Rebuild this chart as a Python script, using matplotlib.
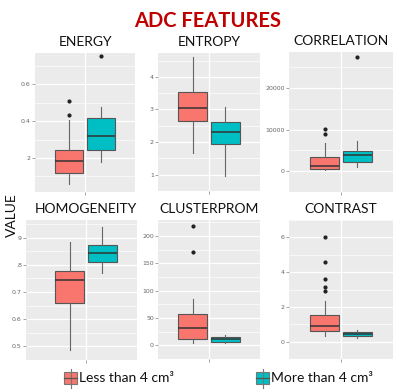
import matplotlib
matplotlib.use("Agg")
from matplotlib import pyplot as plt
from matplotlib.patches import Rectangle

# colours
RED = "#F8766D"
TEAL = "#00BFC4"
groups = ["Less than 4 cm\u00b3", "More than 4 cm\u00b3"]

# box stats: [lower whisker, Q1, median, Q3, upper whisker]
energy_less = [0.057, 0.119, 0.185, 0.241, 0.405]
energy_less_out = [0.435, 0.51]
energy_more = [0.18, 0.243, 0.32, 0.415, 0.475]
energy_more_out = [0.75]

entropy_less = [1.67, 2.64, 3.05, 3.52, 4.62]
entropy_less_out = []
entropy_more = [0.97, 1.95, 2.30, 2.61, 3.08]
entropy_more_out = []

corr_less = [300, 510, 1370, 3360, 6790]
corr_less_out = [9080, 10280]
corr_more = [1070, 2140, 3790, 4930, 7280]
corr_more_out = [27500]

homog_less = [0.486, 0.661, 0.744, 0.777, 0.885]
homog_less_out = []
homog_more = [0.769, 0.811, 0.843, 0.873, 0.94]
homog_more_out = []

clust_less = [4, 12.4, 30.8, 57, 85]
clust_less_out = [170, 218]
clust_more = [4, 6.7, 11.2, 15, 19.6]
clust_more_out = []

contr_less = [0.3, 0.64, 0.92, 1.56, 2.32]
contr_less_out = [2.93, 3.17, 3.63, 4.58, 6.0]
contr_more = [0.18, 0.30, 0.43, 0.53, 0.68]
contr_more_out = []

# tick values / labels as they appear in the picture
energy_ticks = [0.2, 0.4, 0.6]
energy_labels = ["2", "0.4", "0.6"]
entropy_ticks = [1, 2, 3, 4]
entropy_labels = ["1", "2", "3", "4"]
corr_ticks = [0, 10000, 20000]
corr_labels = ["0", "10000", "20000"]
homog_ticks = [0.5, 0.6, 0.7, 0.8, 0.9]
homog_labels = ["0.5", "0.6", "0.7", ".8", "9"]
clust_ticks = [0, 50, 100, 150, 200]
clust_labels = ["0", "50", "100", "150", "200"]
contr_ticks = [0, 2, 4, 6]
contr_labels = ["0", "2", "4", "6"]

W, H = 400, 392
fig = plt.figure(figsize=(4, 3.92), dpi=100)


def add_ax(x0, y0, x1, y1):
    return fig.add_axes([x0 / W, 1 - y1 / H, (x1 - x0) / W, (y1 - y0) / H])


def stats(s, out):
    return dict(whislo=s[0], q1=s[1], med=s[2], q3=s[3], whishi=s[4], fliers=out)


def panel(ax, title, less, less_out, more, more_out, ticks, labels, ylim, xlim=(-0.6, 0.6)):
    ax.set_facecolor("#EBEBEB")
    b = ax.bxp([stats(less, less_out), stats(more, more_out)],
               positions=[-0.19, 0.19], widths=0.34, patch_artist=True,
               showcaps=False,
               boxprops=dict(edgecolor="#555555", linewidth=0.8),
               medianprops=dict(color="#333333", linewidth=1.1),
               whiskerprops=dict(color="#666666", linewidth=0.8),
               flierprops=dict(marker="o", markersize=2, markerfacecolor="#222222",
                               markeredgecolor="#222222"))
    b["boxes"][0].set_facecolor(RED)
    b["boxes"][1].set_facecolor(TEAL)
    ax.set_xlim(*xlim)
    ax.set_ylim(*ylim)
    ax.set_yticks(ticks)
    ax.set_yticklabels(labels)
    step = ticks[1] - ticks[0]
    minor = [t - step / 2 for t in ticks] + [ticks[-1] + step / 2]
    ax.set_yticks(minor, minor=True)
    ax.set_xticks([0])
    ax.set_xticklabels([""])
    ax.grid(True, which="major", color="white", linewidth=0.9)
    ax.grid(True, which="minor", axis="y", color="white", linewidth=0.45)
    ax.set_axisbelow(True)
    ax.tick_params(axis="y", which="major", labelsize=4.5, labelcolor="#666666",
                   color="#808080", length=2, width=0.5, pad=1)
    ax.tick_params(axis="x", length=2, width=0.5, color="#808080")
    ax.tick_params(which="minor", length=0)
    for sp in ax.spines.values():
        sp.set_visible(False)
    pos = ax.get_position()
    fig.text(pos.x0 + pos.width * (0 - xlim[0]) / (xlim[1] - xlim[0]), pos.y1 + 0.012, title,
             ha="center", va="bottom", fontsize=10, family="Lato", color="#111111")


ax1 = add_ax(35, 53, 135, 192)
panel(ax1, "ENERGY", energy_less, energy_less_out, energy_more, energy_more_out,
      energy_ticks, energy_labels, (0.016, 0.768))
ax2 = add_ax(158, 53, 260, 191)
panel(ax2, "ENTROPY", entropy_less, entropy_less_out, entropy_more, entropy_more_out,
      entropy_ticks, entropy_labels, (0.79, 4.73))
ax3 = add_ax(289, 52, 393, 192)
panel(ax3, "CORRELATION", corr_less, corr_less_out, corr_more, corr_more_out,
      corr_ticks, corr_labels, (-1285, 28700))
ax4 = add_ax(26, 220, 137, 360)
panel(ax4, "HOMOGENEITY", homog_less, homog_less_out, homog_more, homog_more_out,
      homog_ticks, homog_labels, (0.465, 0.965), xlim=(-0.706, 0.6))
ax5 = add_ax(158, 220, 260, 359)
panel(ax5, "CLUSTERPROM", clust_less, clust_less_out, clust_more, clust_more_out,
      clust_ticks, clust_labels, (-3.9, 229))
ax6 = add_ax(289, 220, 393, 359)
panel(ax6, "CONTRAST", contr_less, contr_less_out, contr_more, contr_more_out,
      contr_ticks, contr_labels, (-0.05, 6.33))

fig.text(208 / W, 1 - 21 / H, "ADC FEATURES", ha="center", va="center",
         fontsize=14.5, fontweight="bold", family="Lato", color="#C00000")
fig.text(12 / W, 1 - 215 / H, "VALUE", ha="center", va="center", rotation=90,
         fontsize=10, family="Lato", color="#111111")

# legend
lg = fig.add_axes([0, 0, 1, 1], facecolor="none")
lg.set_xlim(0, W)
lg.set_ylim(H, 0)
lg.axis("off")
for x0, col, label in [(64, RED, groups[0]), (256, TEAL, groups[1])]:
    lg.plot([x0 + 6.5, x0 + 6.5], [369, 388], color="#777777", linewidth=0.8)
    lg.add_patch(Rectangle((x0, 372), 13, 12, facecolor=col, edgecolor="#777777", linewidth=0.8))
    lg.plot([x0, x0 + 13], [378, 378], color="#555555", linewidth=0.9)
    lg.text(x0 + 15, 378, label, ha="left", va="center", fontsize=10,
            family=["Lato", "DejaVu Sans"], color="#111111")

fig.savefig("out.png", dpi=100)
